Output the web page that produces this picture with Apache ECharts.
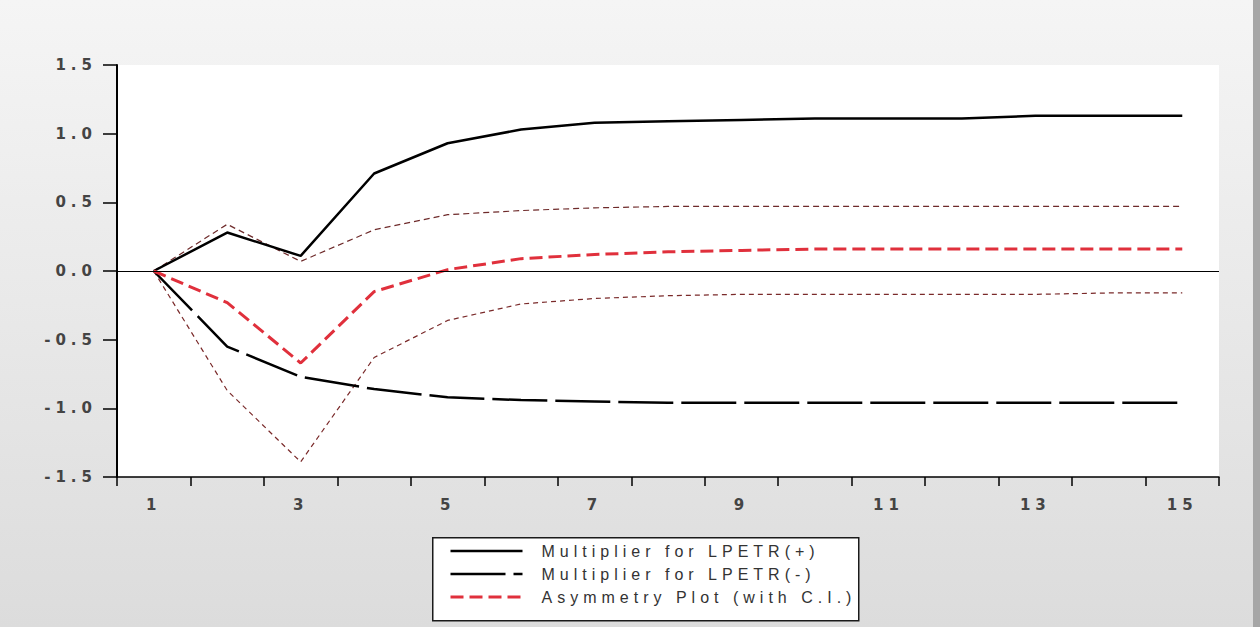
<!DOCTYPE html>
<html>
<head>
<meta charset="utf-8">
<script src="https://cdn.jsdelivr.net/npm/echarts@6/dist/echarts.min.js"></script>
<style>
  html, body { margin: 0; padding: 0; }
  #chart { width: 1260px; height: 627px; }
  #chart text { letter-spacing: 5px; }
</style>
</head>
<body>
<div id="chart"></div>
<script>
const categories = ['1','2','3','4','5','6','7','8','9','10','11','12','13','14','15'];
const multPlus  = [0, 0.28, 0.11, 0.71, 0.93, 1.03, 1.08, 1.09, 1.10, 1.11, 1.11, 1.11, 1.13, 1.13, 1.13];
const multMinus = [0, -0.55, -0.77, -0.86, -0.92, -0.94, -0.95, -0.96, -0.96, -0.96, -0.96, -0.96, -0.96, -0.96, -0.96];
const asymmetry = [0, -0.23, -0.67, -0.15, 0.01, 0.09, 0.12, 0.14, 0.15, 0.16, 0.16, 0.16, 0.16, 0.16, 0.16];
const upperCI   = [0, 0.34, 0.07, 0.30, 0.41, 0.44, 0.46, 0.47, 0.47, 0.47, 0.47, 0.47, 0.47, 0.47, 0.47];
const lowerCI   = [0, -0.87, -1.39, -0.63, -0.36, -0.24, -0.20, -0.18, -0.17, -0.17, -0.17, -0.17, -0.17, -0.16, -0.16];
const legendNames = ['Multiplier for LPETR(+)', 'Multiplier for LPETR(-)', 'Asymmetry Plot (with C.I.)'];

const chart = echarts.init(document.getElementById('chart'), null, { renderer: 'svg' });
const axisFont = 'DejaVu Sans, Liberation Sans, Arial, sans-serif';
const legendFont = 'Liberation Sans, Arial, sans-serif';
chart.setOption({
  animation: false,
  backgroundColor: {
    type: 'linear', x: 0, y: 0, x2: 0, y2: 1,
    colorStops: [{ offset: 0, color: '#f5f5f5' }, { offset: 1, color: '#dcdcdc' }]
  },
  graphic: [
    { type: 'rect', right: 0, top: 0, shape: { width: 7, height: 627 }, style: { fill: '#a6a6a6' }, z: 0 },
    { type: 'rect', left: 432, top: 537, shape: { width: 426, height: 83 },
      style: { fill: '#ffffff', stroke: '#1a1a1a', lineWidth: 1.5 }, z: 0 }
  ],
  grid: {
    left: 117, right: 41, top: 65, bottom: 150,
    show: true, backgroundColor: '#ffffff', borderWidth: 0
  },
  legend: {
    data: legendNames,
    orient: 'vertical',
    left: 449, top: 543,
    itemWidth: 72, itemHeight: 14, itemGap: 7,
    padding: 0,
    selectedMode: false,
    itemStyle: { opacity: 0, borderWidth: 0 },
    lineStyle: { width: 'inherit' },
    textStyle: { fontSize: 16, color: '#333', fontFamily: legendFont, padding: [0, 0, 0, 14] },
    z: 5
  },
  xAxis: {
    type: 'category',
    data: categories,
    boundaryGap: true,
    axisLine: { onZero: false, lineStyle: { color: '#000', width: 1.5 } },
    axisTick: { show: true, interval: 0, length: 9, lineStyle: { color: '#000', width: 1.5 } },
    axisLabel: { interval: 1, margin: 20, fontSize: 15, fontWeight: 'bold', color: '#444', fontFamily: axisFont },
    splitLine: { show: false }
  },
  yAxis: {
    type: 'value',
    min: -1.5, max: 1.5, interval: 0.5,
    axisLine: { show: true, lineStyle: { color: '#000', width: 2 } },
    axisTick: { show: true, length: 14, lineStyle: { color: '#000', width: 1.5 } },
    axisLabel: { margin: 20, fontSize: 15, fontWeight: 'bold', color: '#444', fontFamily: axisFont,
      formatter: v => v.toFixed(1) },
    splitLine: { show: false }
  },
  series: [
    {
      name: legendNames[0], type: 'line', data: multPlus, symbol: 'none',
      lineStyle: { color: '#000', width: 2.5, type: 'solid' }, itemStyle: { color: '#000' },
      markLine: {
        silent: true, symbol: 'none', label: { show: false },
        lineStyle: { color: '#000', width: 1, type: 'solid' },
        data: [{ yAxis: 0 }]
      },
      z: 3
    },
    {
      name: legendNames[1], type: 'line', data: multMinus, symbol: 'none',
      lineStyle: { color: '#000', width: 2.5, type: [55, 8] }, itemStyle: { color: '#000' }, z: 3
    },
    {
      name: legendNames[2], type: 'line', data: asymmetry, symbol: 'none',
      lineStyle: { color: '#e0303c', width: 3, type: [13, 6] }, itemStyle: { color: '#e0303c' }, z: 3
    },
    {
      name: 'Upper C.I.', type: 'line', data: upperCI, symbol: 'none',
      lineStyle: { color: '#6e2a2a', width: 1.2, type: [6, 4] }, itemStyle: { color: '#6e2a2a' }, z: 2
    },
    {
      name: 'Lower C.I.', type: 'line', data: lowerCI, symbol: 'none',
      lineStyle: { color: '#7a2a2a', width: 1.2, type: [5, 4] }, itemStyle: { color: '#7a2a2a' }, z: 2
    }
  ]
});
</script>
</body>
</html>
